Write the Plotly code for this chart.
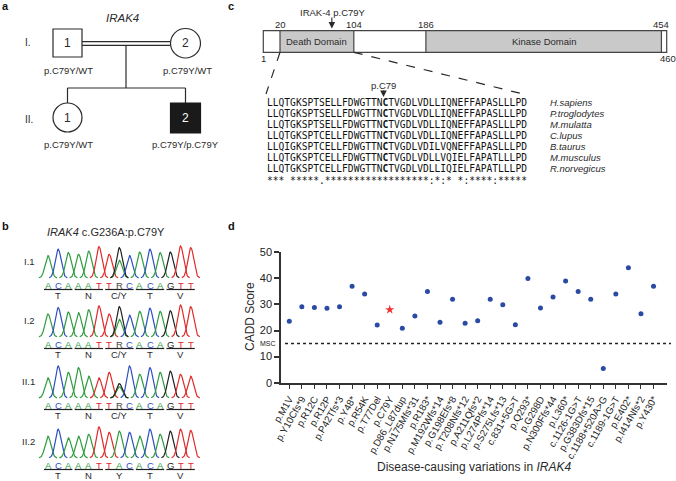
import numpy as np
import plotly.graph_objects as go

# ---------------- Panel d data ----------------
variants = ["p.M1V", "p.Y10Cfs*9", "p.R12C", "p.R12P", "p.P42Tfs*3", "p.Y48*", "p.R54K",
            "p.T77Del", "p.C79Y", "p.D86_L87dup", "p.N175Mfs*31", "p.R183*", "p.M192Wfs*14",
            "p.G198Efs*8", "p.T208Nfs*12", "p.A211Qfs*2", "p.L274Pfs*14", "p.S275Lfs*13",
            "c.831+5G>T", "p.Q293*", "p.G298D", "p.N300Ffs*44", "p.L360*", "c.1126-1G>T",
            "p.G383Dfs*15", "c.1188+520A>G", "c.1189-1G>T", "p.E402*", "p.I414Nfs*2", "p.Y430*"]
cadd = [23.6, 29.1, 28.8, 28.5, 29.1, 37.0, 34.0, 22.1, 28.0, 20.9, 25.6, 35.0, 23.2, 32.0,
        22.8, 23.8, 32.0, 29.9, 22.2, 40.0, 28.6, 32.9, 39.0, 35.0, 32.0, 5.4, 34.0, 44.1,
        26.4, 37.0]
highlight = "p.C79Y"
msc = 15
y_ticks = [0, 10, 20, 30, 40, 50]

# ---------------- Panel c data ----------------
protein_len = 460
domains = [("Death Domain", 20, 104), ("Kinase Domain", 186, 454)]
pos_labels = [20, 104, 186, 454]
mutation_pos = 79
species = ["H.sapiens", "P.troglodytes", "M.mulatta", "C.lupus", "B.taurus",
           "M.musculus", "R.norvegicus"]
sequences = ["LLQTGKSPTSELLFDWGTTNCTVGDLVDLLIQNEFFAPASLLLPD",
             "LLQTGKSPTSELLFDWGTTNCTVGDLVDLLIQNEFFAPASLLLPD",
             "LLQTGKSPTSELLFDWGTTNCTVGDLVDLLIQNEFFAPASLLLPD",
             "LLQTGKSPTCELLFDWGTTNCTVGDLVDLLIQNEFFAPASLLLPD",
             "LLQIGKSPTCELLFDWGTTNCTVGDLVDILVQNEFFAPASLLLPD",
             "LLQTGKSPTCELLFDWGTTNCTVGDLVDLLVQIELFAPATLLLPD",
             "LLQTGKSPTCELLFDWGTTNCTVGDLVDLLIQIELFAPATLLLPD"]
consensus = "*** *****.******************:*:* *:****:*****"
mut_index = 20

# ---------------- Panel b data ----------------
row_names = ["I.1", "I.2", "II.1", "II.2"]
row_bases = ["ACAAATTRCACAGTT", "ACAAATTRCACAGTT", "ACAAATTRCACAGTT", "ACAAATTACACAGTT"]
row_aas = [["T", "N", "C/Y", "T", "V"], ["T", "N", "C/Y", "T", "V"],
           ["T", "N", "C/Y", "T", "V"], ["T", "N", "Y", "T", "V"]]
row_peaks = [[0.70, 0.90, 0.79, 0.74, 0.84, 0.98, 0.74, 0.95, 0.70, 0.81, 0.90, 0.79, 0.81, 1.00, 0.95],
             [0.72, 0.92, 0.78, 0.76, 0.85, 0.97, 0.72, 0.95, 0.68, 0.80, 0.90, 0.80, 0.82, 1.00, 0.95],
             [0.63, 1.00, 0.80, 0.95, 0.68, 0.63, 0.80, 0.45, 1.00, 0.74, 0.95, 0.80, 0.84, 0.74, 0.68],
             [0.68, 0.90, 0.63, 0.68, 0.74, 0.97, 0.80, 0.84, 0.80, 0.68, 0.90, 0.74, 0.84, 0.90, 0.86]]
row_het_a = [0.55, 0.55, 0.35, 0.0]

# ---------------- Pedigree data ----------------
ped_genotypes = {"I.1": "p.C79Y/WT", "I.2": "p.C79Y/WT", "II.1": "p.C79Y/WT", "II.2": "p.C79Y/p.C79Y"}

# ---------------- Build figure ----------------
W, H = 676, 481
FONT = "Liberation Sans, Arial, sans-serif"
DARK = "#2a2a2a"
fig = go.Figure()
shapes = []
ann = []


def text(x, y, s, size=9.5, color=DARK, xanchor="center", family=FONT, angle=0):
    ann.append(dict(x=x, y=y, xref="x2", yref="y2", text=s, showarrow=False,
                    xanchor=xanchor, yanchor="middle", textangle=angle,
                    font=dict(size=size, color=color, family=family)))


def line(x0, y0, x1, y1, width=1.2, color=DARK, dash="solid"):
    shapes.append(dict(type="line", xref="x2", yref="y2", x0=x0, y0=y0, x1=x1, y1=y1,
                       line=dict(color=color, width=width, dash=dash)))


def arrow(x, y0, y1):
    ann.append(dict(x=x, y=y1, ax=x, ay=y0, xref="x2", yref="y2", axref="x2", ayref="y2",
                    text="", showarrow=True, arrowhead=2, arrowsize=1.2, arrowwidth=1.1,
                    arrowcolor=DARK))


# panel letters
for lab, x, y in [("a", 5, 6), ("b", 5, 226), ("c", 231, 6), ("d", 231, 226)]:
    text(x, y, "<b>%s</b>" % lab, size=11, color="#111")

# ---------- Panel a: pedigree ----------
text(122, 18, "<i>IRAK4</i>", size=11.5)
text(28, 42, "I.", size=10)
text(29, 119, "II.", size=10)
line(82, 41.7, 170, 41.7)
line(82, 45.3, 170, 45.3)
line(126, 45.3, 126, 88)
line(67.5, 88, 185.5, 88)
line(67.5, 88, 67.5, 103)
line(185.5, 88, 185.5, 103)
shapes.append(dict(type="rect", xref="x2", yref="y2", x0=53, x1=82, y0=29, y1=57,
                   line=dict(color=DARK, width=1.2), fillcolor="white"))
shapes.append(dict(type="circle", xref="x2", yref="y2", x0=170.5, x1=200.5, y0=28.5, y1=58,
                   line=dict(color=DARK, width=1.2), fillcolor="white"))
shapes.append(dict(type="circle", xref="x2", yref="y2", x0=53, x1=82, y0=103, y1=132,
                   line=dict(color=DARK, width=1.2), fillcolor="white"))
shapes.append(dict(type="rect", xref="x2", yref="y2", x0=170.5, x1=200.5, y0=103, y1=133,
                   line=dict(color="#1a1a1a", width=1.2), fillcolor="#1a1a1a"))
text(67.5, 43, "1", size=12)
text(185.5, 43, "2", size=12)
text(67.5, 117.5, "1", size=12)
text(185.5, 118, "2", size=12, color="white")
text(68, 70, ped_genotypes["I.1"], size=9.5)
text(187, 70, ped_genotypes["I.2"], size=9.5)
text(68, 144, ped_genotypes["II.1"], size=9.5)
text(185, 144, ped_genotypes["II.2"], size=9.5)

# ---------- Panel b: chromatograms ----------
text(106, 232, "<i>IRAK4</i> c.G236A:p.C79Y", size=11)
base_col = {"A": "#2f9c3f", "C": "#2f4fc2", "G": "#222222", "T": "#e02b2b", "R": "#444444"}
letter_rows = [285, 344, 405, 465]
x0b, dxb = 48.0, 10.2
sig = 2.9
for r in range(4):
    ly = letter_rows[r]
    base_y = ly - 7
    text(37, ly - 24, row_names[r], size=9.5, xanchor="right")
    for i, b in enumerate(row_bases[r]):
        cx = x0b + dxb * i
        xs = np.linspace(cx - 9, cx + 9, 37)
        prof = np.exp(-((xs - cx) ** 2) / (2 * sig ** 2))
        if b == "R":
            if row_het_a[r] > 0:
                fig.add_trace(go.Scatter(x=xs, y=base_y - 32 * row_het_a[r] * prof, mode="lines",
                                         line=dict(color=base_col["A"], width=1.2),
                                         xaxis="x2", yaxis="y2", hoverinfo="skip", showlegend=False))
            col = base_col["G"]
        else:
            col = base_col[b]
        fig.add_trace(go.Scatter(x=xs, y=base_y - 32 * row_peaks[r][i] * prof, mode="lines",
                                 line=dict(color=col, width=1.2),
                                 xaxis="x2", yaxis="y2", hoverinfo="skip", showlegend=False))
        text(cx, ly, b, size=9.5, color=base_col[b])
    for k in range(5):
        xa = x0b + dxb * 3 * k - 4
        xb = x0b + dxb * (3 * k + 2) + 4
        line(xa, ly + 4.5, xb, ly + 4.5, width=1.2, color="#222")
        text((xa + xb) / 2, ly + 10, row_aas[r][k], size=9.5)

# ---------- Panel c: domain diagram ----------
def px(aa):
    return 263.3 + (aa - 1) * (666.7 - 263.3) / (protein_len - 1)


by0, by1 = 30.7, 52.3
shapes.append(dict(type="rect", xref="x2", yref="y2", x0=px(1), x1=px(protein_len), y0=by0, y1=by1,
                   line=dict(color="#444", width=1.2), fillcolor="white"))
for name, a0, a1 in domains:
    shapes.append(dict(type="rect", xref="x2", yref="y2", x0=px(a0), x1=px(a1), y0=by0, y1=by1,
                       line=dict(color="#444", width=1.2), fillcolor="#c9c9c9"))
    text((px(a0) + px(a1)) / 2, (by0 + by1) / 2, name, size=9.5)
for p in pos_labels:
    text(px(p), 24.5, str(p), size=9.5)
text(px(1), 58, "1", size=9.5)
text(px(protein_len) + 1, 58, str(protein_len), size=9.5)
text(px(mutation_pos) + 1, 12.5, "IRAK-4 p.C79Y", size=9.5)
arrow(px(mutation_pos), 16, 28.5)

char_w = 5.78
seq_x0 = 265.0
row0 = 102.0
row_dy = 11.0
line(px(domains[0][1]), by1, seq_x0 + 1, row0 - 8, dash="dash")
line(px(domains[0][2]), by1, seq_x0 + char_w * 45 - 2, row0 - 8, dash="dash")
text(seq_x0 + char_w * (mut_index + 0.5), row0 - 17, "p.C79", size=9.5)
arrow(seq_x0 + char_w * (mut_index + 0.5), row0 - 13, row0 - 5)
MONO = "DejaVu Sans Mono, monospace"
for j, (sp, sq) in enumerate(zip(species, sequences)):
    y = row0 + j * row_dy
    s = sq[:mut_index] + "<b>" + sq[mut_index] + "</b>" + sq[mut_index + 1:]
    text(seq_x0, y, s, size=9.6, family=MONO, xanchor="left", color="#111")
    text(548, y, "<i>%s</i>" % sp, size=9.5, xanchor="left")
text(seq_x0, row0 + 7 * row_dy + 1, consensus, size=9.6, family=MONO, xanchor="left", color="#111")

# ---------- Panel d: CADD scatter ----------
xi = list(range(len(variants)))
norm_x = [i for i, v in enumerate(variants) if v != highlight]
fig.add_trace(go.Scatter(x=norm_x, y=[cadd[i] for i in norm_x], mode="markers",
                         marker=dict(color="#2a4ba3", size=5), showlegend=False,
                         xaxis="x", yaxis="y"))
hi = variants.index(highlight)
fig.add_trace(go.Scatter(x=[hi], y=[cadd[hi]], mode="markers",
                         marker=dict(color="#ee3333", size=7, symbol="star"), showlegend=False,
                         xaxis="x", yaxis="y"))

ax_y0, ax_y50 = 382.7, 252.3
ax_x0, ax_x1 = 281.0, 666.7
msc_y = ax_y0 - (ax_y0 - ax_y50) * msc / 50.0
line(285, msc_y, 671, msc_y, width=1.5, color="#222", dash="dot")
text(278, msc_y, "MSC", size=7, xanchor="right", color="#222")
text(250, 317, "CADD Score", size=12, angle=-90)
text(474, 467, "Disease-causing variations in <i>IRAK4</i>", size=12)

fig.update_layout(
    width=W, height=H, margin=dict(l=0, r=0, t=0, b=0),
    paper_bgcolor="white", plot_bgcolor="rgba(0,0,0,0)",
    showlegend=False,
    xaxis=dict(domain=[ax_x0 / W, ax_x1 / W], range=[-0.66, 30.05], tickmode="array",
               tickvals=xi, ticktext=variants, tickangle=-60, ticks="outside", ticklen=5,
               tickwidth=1.2, tickcolor="#333", showline=True, linecolor="#333", linewidth=1.5,
               showgrid=False, zeroline=False, automargin=False,
               tickfont=dict(size=9.8, color="#222", family=FONT), anchor="y"),
    yaxis=dict(domain=[1 - ax_y0 / H, 1 - ax_y50 / H], range=[0, 50], tickmode="array",
               tickvals=y_ticks, ticks="outside", ticklen=5, tickwidth=1.5, tickcolor="#333",
               showline=True, linecolor="#333", linewidth=1.5, showgrid=False, zeroline=False,
               automargin=False, tickfont=dict(size=11, color="#222", family=FONT), anchor="x"),
    xaxis2=dict(domain=[0, 1], range=[0, W], visible=False, anchor="y2", fixedrange=True),
    yaxis2=dict(domain=[0, 1], range=[H, 0], visible=False, anchor="x2", fixedrange=True),
    shapes=shapes, annotations=ann,
)
fig.write_html("out.html", config={"displayModeBar": False},
               post_script="document.body.style.margin='0';document.body.style.overflow='hidden';")
